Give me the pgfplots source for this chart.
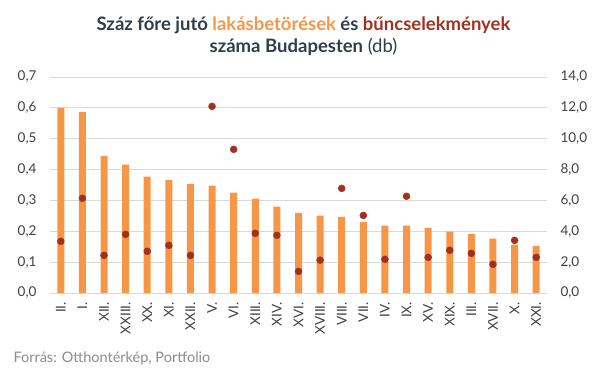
\documentclass[border=0pt]{standalone}
\usepackage{pgfplots}
\pgfplotsset{compat=1.18}
\usepackage{fontspec}
\setmainfont{Lato}
\definecolor{barc}{HTML}{F79646}
\definecolor{dotc}{HTML}{A3301F}
\definecolor{txt}{HTML}{333D47}
\definecolor{gridc}{HTML}{D9D9D9}
\definecolor{tick}{HTML}{404040}
\definecolor{src}{HTML}{8C8C8C}
\begin{document}
\begin{tikzpicture}[x=1pt,y=1pt]
\useasboundingbox (0,0) rectangle (605,378);
\begin{axis}[at={(50pt,85pt)}, anchor=south west, scale only axis,
  width=497pt, height=216pt,
  xmin=-0.5, xmax=22.5, ymin=0, ymax=0.7,
  axis x line*=bottom, axis y line*=left,
  y axis line style={draw=none},
  x axis line style={draw=gridc, line width=1pt},
  major tick length=0pt,
  ytick={0,0.1,0.2,0.3,0.4,0.5,0.6,0.7},
  ymajorgrids, grid style={gridc, line width=0.8pt},
  xtick={0,...,22},
  xticklabels={II.,I.,XII.,XXIII.,XX.,XI.,XXII.,V.,VI.,XIII.,XIV.,XVI.,XVIII.,VIII.,VII.,IV.,IX.,XV.,XIX.,III.,XVII.,X.,XXI.},
  xticklabel style={rotate=90, anchor=east, font=\fontsize{13.5}{15}\selectfont, text=tick, inner sep=0pt, xshift=-9pt},
  yticklabel style={font=\fontsize{13.5}{15}\selectfont, text=tick, xshift=-10pt},
  /pgf/number format/.cd, fixed, fixed zerofill, precision=1, use comma, assume math mode=true,
]
\addplot[ybar, bar width=7pt, fill=barc, draw=none] coordinates {
(0,0.600) (1,0.587) (2,0.444) (3,0.416) (4,0.377) (5,0.367) (6,0.354) (7,0.348)
(8,0.325) (9,0.306) (10,0.280) (11,0.260) (12,0.251) (13,0.247) (14,0.230) (15,0.218)
(16,0.218) (17,0.211) (18,0.199) (19,0.192) (20,0.176) (21,0.157) (22,0.153)};
\end{axis}
\begin{axis}[at={(50pt,85pt)}, anchor=south west, scale only axis,
  width=497pt, height=216pt,
  xmin=-0.5, xmax=22.5, ymin=0, ymax=14,
  axis y line*=right, axis x line=none,
  y axis line style={draw=none},
  major tick length=0pt,
  ytick={0,2,4,6,8,10,12,14},
  yticklabel style={font=\fontsize{13.5}{15}\selectfont, text=tick, xshift=10pt},
  /pgf/number format/.cd, fixed, fixed zerofill, precision=1, use comma, assume math mode=true,
]
\addplot[only marks, mark=*, mark size=3.5pt, color=dotc] coordinates {
(0,3.35) (1,6.14) (2,2.44) (3,3.80) (4,2.70) (5,3.09) (6,2.44) (7,12.10)
(8,9.31) (9,3.87) (10,3.74) (11,1.40) (12,2.13) (13,6.78) (14,5.03) (15,2.18)
(16,6.27) (17,2.31) (18,2.77) (19,2.57) (20,1.86) (21,3.41) (22,2.31)};
\end{axis}
\node[font=\fontsize{18.5}{21}\selectfont\bfseries, text=txt] at (303.5,353) {Száz főre jutó \textcolor{barc}{lakásbetörések} és \textcolor{dotc}{bűncselekmények}};
\node[font=\fontsize{18.5}{21}\selectfont, text=txt] at (303.5,331) {\textbf{száma Budapesten} (db)};
\node[anchor=west, font=\fontsize{14.5}{16}\selectfont, text=src] at (10,20) {Forrás: Otthontérkép, Portfolio};
\end{tikzpicture}
\end{document}
